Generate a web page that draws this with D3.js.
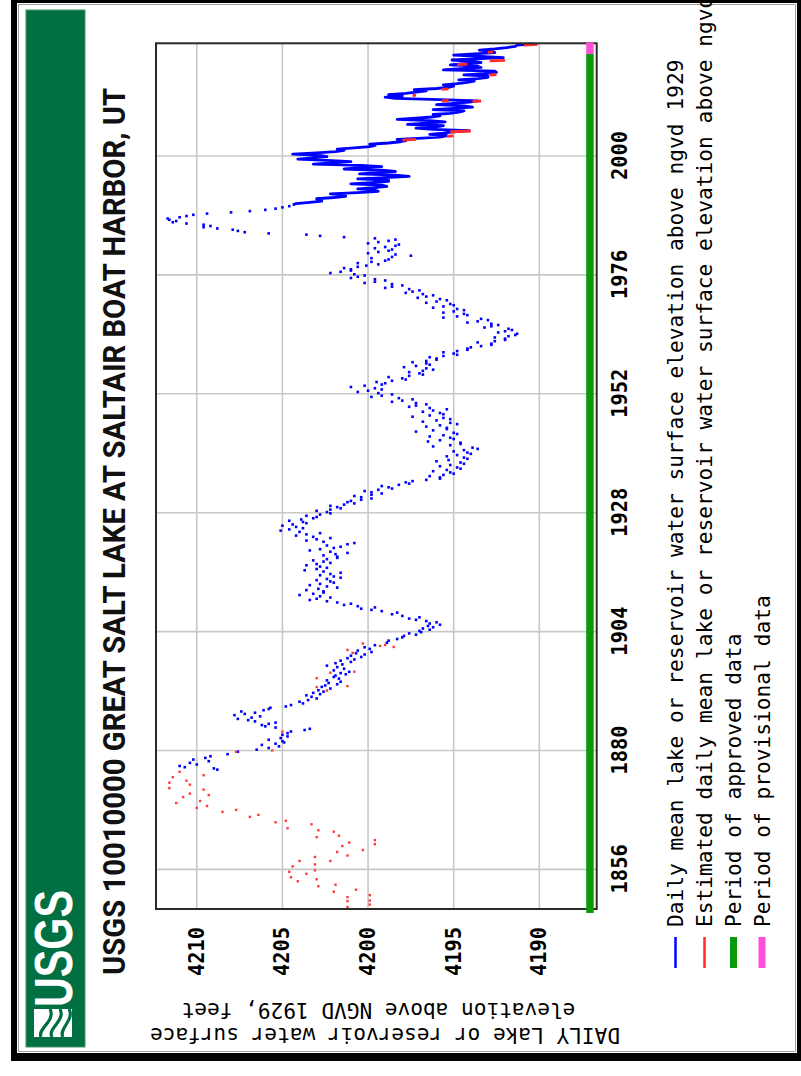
<!DOCTYPE html>
<html><head><meta charset="utf-8">
<script src="https://cdn.jsdelivr.net/npm/d3@7"></script>
<style>body{margin:0;background:#fff}svg{display:block}</style>
</head><body>
<svg id="c" width="801" height="1076"></svg>
<script>
const titleText = "USGS 10010000 GREAT SALT LAKE AT SALTAIR BOAT HARBOR, UT";
const yTitleLines = ["DAILY Lake or reservoir water surface", "elevation above NGVD 1929, feet"];
const legendLabels = [
  "Daily mean lake or reservoir water surface elevation above ngvd 1929",
  "Estimated daily mean lake or reservoir water surface elevation above ngvd 1929",
  "Period of approved data",
  "Period of provisional data"
];
const legendColors = ["#0000ff", "#ff2a2a", "#089a08", "#ff4fd8"];
const legendWidths = [2.5, 2.5, 7, 7];

const yearTicks = [1856, 1880, 1904, 1928, 1952, 1976, 2000];
const elevTicks = [4190, 4195, 4200, 4205, 4210];
const yearDomain = [1848.0, 2022.75];
const elevDomain = [4186.65, 4212.38];
const approvedPeriod = [1847.2, 2020.6];
const provisionalPeriod = [2020.6, 2022.9];

// estimated (red) isolated readings [decimal year, elevation]
const estimatedPoints = [
[1848.4,4201.2],[1849.6,4201.2],[1850.4,4201.2],[1848.9,4199.9],[1849.7,4199.9],[1850.8,4199.9],
[1851.9,4200.7],[1851.5,4202.0],[1852.9,4201.9],[1852.6,4202.9],[1854.0,4203.0],[1853.6,4204.1],
[1854.4,4204.5],[1855.1,4203.6],[1855.5,4204.6],[1856.6,4204.4],[1857.7,4204.0],[1855.8,4203.1],
[1857.0,4203.1],[1858.5,4203.1],[1857.7,4202.2],[1858.8,4201.2],[1859.5,4201.8],[1859.9,4200.3],
[1860.7,4201.5],[1861.4,4201.1],[1861.1,4199.6],[1861.9,4199.6],[1862.8,4201.7],[1863.6,4202.0],
[1862.5,4203.0],[1863.9,4202.9],[1864.3,4204.7],[1865.1,4203.3],[1865.8,4204.8],[1865.5,4205.4],
[1866.6,4206.9],[1867.0,4206.4],[1867.6,4208.5],[1868.0,4207.7],[1868.4,4210.0],[1868.8,4209.4],
[1869.4,4211.2],[1869.8,4209.8],[1870.6,4210.8],[1871.0,4209.3],[1871.3,4210.4],[1872.1,4209.6],
[1872.4,4211.6],[1873.1,4210.4],[1873.5,4211.6],[1873.9,4210.6],[1874.6,4211.4],[1875.0,4209.6],
[1875.7,4211.0],
[1879.7,4207.7],[1880.0,4205.6],[1883.8,4205.0],[1892.1,4202.4],[1892.8,4203.0],[1893.0,4201.2],
[1894.6,4203.0],[1895.7,4202.2],[1895.9,4200.8],[1899.7,4200.9],[1900.3,4201.2],[1900.9,4198.5],
[1901.1,4199.3],[1901.3,4199.0],[1901.6,4200.3]
];

// daily mean readings shown as isolated points: [year, readings through the year...]
const dailyDotRows = [
[1876,4208.8,4209.0,4210.7,4211.0],[1877,4210.0,4210.4,4209.3],[1878,4210.2,4209.5,4209.2],
[1879,4208.2,4207.6],[1880,4206.5,4205.8,4205.2],[1881,4206.2,4205.4,4204.9,4205.0],
[1882,4205.8,4205.1,4204.7],[1883,4205.0,4204.7,4204.5],[1884,4203.7,4203.4,4205.4,4206.0],
[1885,4206.2,4205.8,4205.4,4206.6],[1886,4207.0,4207.6,4206.8,4206.3],[1887,4207.8,4207.2,4206.6,4207.4],
[1888,4206.1,4205.8,4205.7,4204.8],[1889,4204.5,4203.8,4204.0],[1890,4203.5,4203.0,4203.3],
[1891,4203.6,4202.8,4203.2,4202.6],[1892,4202.9,4202.2,4202.7],[1893,4202.5,4201.8,4202.3,4201.6],
[1894,4202.4,4201.7,4202.0],[1895,4201.9,4201.3,4201.6,4201.1],[1896,4202.0,4201.4,4201.8],
[1897,4202.4,4201.5,4201.9,4201.0],[1898,4201.6,4200.8,4201.2,4200.4],[1899,4201.0,4200.2,4200.7,4199.8],
[1900,4200.6,4199.9,4200.2],[1901,4199.6,4198.9],[1902,4198.8,4198.3,4198.0],
[1903,4197.9,4197.2,4197.6,4196.9],[1904,4197.0,4196.4,4196.8,4196.2],[1905,4196.5,4195.8,4196.4,4196.0],
[1906,4196.6,4197.2,4197.6,4197.0],[1907,4198.0,4198.6,4198.3],[1908,4199.2,4199.8,4200.4,4199.6],
[1909,4200.6,4201.4,4201.0,4201.8],[1910,4202.4,4203.4,4203.0,4202.2],[1911,4202.8,4204.0,4203.2,4202.6],
[1912,4202.6,4203.6,4202.9,4201.8],[1913,4202.4,4203.4,4202.8,4202.0],[1914,4202.2,4203.0,4202.4,4201.6],
[1915,4202.0,4202.8,4202.2,4201.6],[1916,4202.6,4203.7,4203.0,4202.4],[1917,4202.8,4203.6,4203.0,4202.2],
[1918,4202.6,4203.2,4202.4,4201.8],[1919,4201.8,4202.6,4201.9,4201.2],[1920,4202.2,4203.4,4202.8,4202.0],
[1921,4201.6,4202.4,4201.2,4200.8],[1922,4202.6,4203.6,4203.0,4202.2],[1923,4203.2,4204.2,4203.6,4202.8],
[1924,4204.0,4205.1,4204.6,4203.8],[1925,4204.2,4205.0,4204.4,4203.6],[1926,4203.8,4204.6,4203.9,4203.2],
[1927,4203.0,4203.6,4202.8,4202.2],[1928,4202.4,4203.0,4202.2,4201.6],[1929,4201.8,4202.2,4201.4,4200.8],
[1930,4201.2,4201.0,4200.4,4199.8],[1931,4200.4,4200.8,4199.8,4199.2],[1932,4199.8,4200.2,4199.4,4198.6],
[1933,4198.8,4199.2,4198.2,4197.6],[1934,4197.8,4197.4,4196.6,4195.8],[1935,4195.8,4196.4,4195.6,4195.0],
[1936,4195.2,4196.2,4195.4,4194.6],[1937,4194.8,4195.8,4195.2,4194.4],[1938,4194.6,4196.0,4195.3,4194.2],
[1939,4194.4,4195.4,4194.8,4194.0],[1940,4194.2,4195.0,4194.4,4193.6],[1941,4193.9,4196.2,4195.2,4194.6],
[1942,4194.6,4196.5,4195.8,4195.0],[1943,4195.2,4196.4,4195.6,4194.8],[1944,4195.0,4197.2,4196.2,4195.4],
[1945,4195.4,4196.6,4195.8,4194.8],[1946,4195.2,4196.8,4196.0,4195.2],[1947,4195.6,4197.4,4196.4,4195.6],
[1948,4195.8,4196.8,4196.2,4195.4],[1949,4196.4,4197.6,4197.2,4196.6],[1950,4197.2,4198.6,4198.0,4197.4],
[1951,4198.2,4199.8,4199.2,4198.6],[1952,4199.4,4200.6,4200.0,4199.2],[1953,4199.6,4201.0,4200.2,4199.2],
[1954,4199.0,4199.5,4198.6,4197.8],[1955,4198.0,4198.8,4197.6,4196.8],[1956,4197.0,4197.6,4196.8,4196.2],
[1957,4196.6,4197.9,4197.2,4196.4],[1958,4196.6,4197.4,4196.6,4196.0],[1959,4196.0,4196.4,4195.6,4194.8],
[1960,4195.0,4195.6,4194.8,4194.2],[1961,4194.2,4194.0,4193.4,4192.8],[1962,4192.8,4193.6,4192.6,4192.0],
[1963,4192.0,4192.6,4191.8,4191.4],[1964,4191.3,4192.4,4192.0,4191.6],[1965,4191.8,4193.2,4192.8,4192.4],
[1966,4192.8,4194.2,4193.6,4193.0],[1967,4193.4,4195.6,4194.8,4194.2],[1968,4194.4,4195.6,4195.0,4194.4],
[1969,4194.8,4196.2,4195.6,4195.0],[1970,4195.2,4196.6,4196.0,4195.4],[1971,4195.8,4197.1,4196.6,4196.2],
[1972,4196.8,4197.8,4197.4,4197.0],[1973,4197.6,4199.0,4198.6,4198.0],[1974,4198.6,4200.2,4199.6,4199.0],
[1975,4199.6,4201.0,4200.6,4200.2],[1976,4200.8,4202.2,4201.6,4201.0],[1977,4201.0,4201.4,4200.6,4200.1],
[1978,4199.4,4200.6,4199.8,4199.0],[1979,4198.8,4199.8,4198.6,4197.5],[1980,4198.4,4200.0,4199.4,4198.8],
[1981,4198.6,4199.6,4199.0,4198.4],[1982,4198.2,4200.0,4199.4,4198.8],[1983,4198.4,4199.6,4201.4,4202.8],
[1984,4203.6,4205.8,4207.2,4207.6],[1985,4207.9,4208.8,4209.6,4209.2],[1986,4209.6,4210.6,4211.4,4211.2],
[1987,4211.6,4211.7,4211.0,4210.6],[1988,4210.2,4209.4,4208.0,4206.9],[1989,4206.0,4205.4,4205.0,4204.6]
];

// continuous daily record, quarterly readings: [year, q1, q2, q3, q4]
const dailyLineRows = [
[1990,4204.4,4204.2,4203.4,4202.7],[1991,4202.8,4203.0,4202.0,4201.3],[1992,4201.4,4202.2,4200.6,4199.4],
[1993,4199.6,4200.6,4199.6,4198.9],[1994,4199.2,4201.0,4199.8,4198.8],[1995,4198.8,4200.6,4199.0,4197.6],
[1996,4198.4,4200.5,4199.4,4198.4],[1997,4199.2,4201.4,4200.4,4199.2],[1998,4200.4,4203.2,4202.0,4201.0],
[1999,4202.4,4204.1,4203.2,4202.4],[2000,4202.8,4204.4,4203.0,4201.9],[2001,4201.4,4201.8,4200.8,4199.9],
[2002,4199.6,4199.9,4198.8,4198.1],[2003,4197.8,4198.3,4196.8,4195.7],[2004,4195.4,4196.4,4195.6,4195.0],
[2005,4194.1,4196.2,4197.2,4196.0],[2006,4195.6,4197.7,4196.6,4195.5],[2007,4196.4,4198.3,4197.2,4196.3],
[2008,4195.8,4196.2,4195.2,4194.7],[2009,4194.4,4196.2,4195.0,4193.9],[2010,4194.4,4196.0,4195.0,4194.1],
[2011,4193.6,4195.8,4198.4,4199.0],[2012,4198.0,4198.8,4197.8,4197.2],[2013,4196.6,4197.3,4196.0,4195.3],
[2014,4195.0,4195.6,4194.8,4194.2],[2015,4193.8,4194.7,4193.6,4193.0],[2016,4193.0,4194.4,4193.2,4192.5],
[2017,4192.6,4195.6,4194.6,4193.4],[2018,4193.6,4195.2,4194.4,4193.4],[2019,4194.0,4195.1,4193.8,4192.1],
[2020,4193.4,4195.0,4193.8,4192.6],[2021,4192.8,4193.5,4192.6,4191.9],[2022,4191.4,4191.3,4190.4]
];

// estimated stretches within the continuous record: [[year, elev], [year, elev]]
const estimatedSegments = [
[[2003.2,4198.0],[2003.35,4197.2]],[[2003.95,4195.4],[2004.05,4195.0]],[[2004.9,4195.2],[2005.05,4194.0]],
[[2011.1,4195.7],[2011.2,4195.3]],[[2011.0,4193.9],[2011.1,4193.4]],[[2012.2,4197.4],[2012.3,4197.2]],
[[2013.45,4195.7],[2013.55,4195.3]],[[2016.35,4192.9],[2016.45,4192.5]],[[2018.45,4194.8],[2018.55,4194.2]],
[[2019.2,4192.9],[2019.3,4192.0]],[[2020.9,4193.0],[2021.0,4192.7]],[[2022.4,4190.9],[2022.55,4190.1]]
];

const mono = "'DejaVu Sans Mono', 'Liberation Mono', monospace";
const svg = d3.select("#c");

// outer frame (screen coordinates)
svg.append("rect").attr("x", 11).attr("y", -5).attr("width", 795).attr("height", 1066).attr("fill", "#000");
svg.append("rect").attr("x", 17).attr("y", 3).attr("width", 780).attr("height", 1050).attr("fill", "#fff");
svg.append("rect").attr("x", 18.5).attr("y", 4.5).attr("width", 777).attr("height", 1047)
  .attr("fill", "none").attr("stroke", "#a0a0a0").attr("stroke-width", 1);

// chart drawn in its own orientation, then turned a quarter turn counter-clockwise
const g = svg.append("g").attr("transform", "translate(0,1076) rotate(-90)");

// USGS band
g.append("rect").attr("x", 29).attr("y", 26).attr("width", 1037).attr("height", 59)
  .attr("fill", "#006f41").attr("stroke", "#3c9a6e").attr("stroke-width", 1);
const logo = g.append("g");
logo.append("rect").attr("x", 39).attr("y", 34).attr("width", 28).attr("height", 38).attr("fill", "#fff");
[["M39,41 C47,37 55,56 67,50", 3.2], ["M39,52 C48,47 55,66 67,60", 3.2], ["M39,63 C47,58 56,75 67,69", 3.2]]
  .forEach(([d, w]) => logo.append("path").attr("d", d).attr("fill", "none").attr("stroke", "#006f41").attr("stroke-width", w));
logo.append("text").attr("x", 69).attr("y", 72).attr("textLength", 117).attr("lengthAdjust", "spacingAndGlyphs")
  .attr("font-family", "'Liberation Sans Narrow', 'Liberation Sans', Arial, sans-serif").attr("font-weight", "bold")
  .attr("font-size", 53).attr("fill", "#fff").text("USGS");

// title
g.append("text").attr("x", 101).attr("y", 125).attr("textLength", 887).attr("lengthAdjust", "spacingAndGlyphs")
  .attr("font-family", "'Liberation Sans Narrow', Roboto, 'Liberation Sans', sans-serif").attr("font-weight", "bold")
  .attr("font-size", 32).attr("fill", "#111").text(titleText);

// scales
const x = d3.scaleLinear().domain(yearDomain).range([167, 1032.7]);
const y = d3.scaleLinear().domain(elevDomain).range([596.7, 156]);
const [X0, X1] = x.range(), [Y0, Y1] = y.range();

// grid
g.append("rect").attr("x", X0).attr("y", Y1).attr("width", X1 - X0).attr("height", Y0 - Y1).attr("fill", "#fff");
g.append("g").selectAll("line").data(yearTicks).join("line")
  .attr("x1", d => x(d)).attr("x2", d => x(d)).attr("y1", Y1).attr("y2", Y0)
  .attr("stroke", "#c8c8c8").attr("stroke-width", 1.6);
g.append("g").selectAll("line").data(elevTicks).join("line")
  .attr("y1", d => y(d)).attr("y2", d => y(d)).attr("x1", X0).attr("x2", X1)
  .attr("stroke", "#c8c8c8").attr("stroke-width", 1.6);

// daily points
const dots = dailyDotRows.flatMap(r => r.slice(1).map((v, i, a) => ({ t: r[0] + (i + 0.5) / a.length, v })));
g.append("g").selectAll("rect").data(dots).join("rect")
  .attr("x", d => x(d.t) - 1.3).attr("y", d => y(d.v) - 1.3).attr("width", 2.6).attr("height", 2.6)
  .attr("fill", "#0000ff");

// continuous daily line
const linePts = dailyLineRows.flatMap(r => r.slice(1).map((v, i) => ({ t: r[0] + (i + 0.5) / 4, v })));
const line = d3.line().x(d => x(d.t)).y(d => y(d.v));
g.append("path").datum(linePts).attr("d", line).attr("fill", "none")
  .attr("stroke", "#0000ff").attr("stroke-width", 2.8).attr("stroke-linejoin", "round");

// estimated
const line2 = d3.line().x(d => x(d[0])).y(d => y(d[1]));
g.append("g").selectAll("path").data(estimatedSegments).join("path").attr("d", line2)
  .attr("fill", "none").attr("stroke", "#ff2a2a").attr("stroke-width", 2.8);
g.append("g").selectAll("rect").data(estimatedPoints).join("rect")
  .attr("x", d => x(d[0]) - 1.2).attr("y", d => y(d[1]) - 1.2).attr("width", 2.4).attr("height", 2.4)
  .attr("fill", "#ff3a3a");

// plot frame
g.append("rect").attr("x", X0).attr("y", Y1).attr("width", X1 - X0).attr("height", Y0 - Y1)
  .attr("fill", "none").attr("stroke", "#2a2a2a").attr("stroke-width", 2);

// period bars
g.append("rect").attr("x", x(approvedPeriod[0])).attr("width", x(approvedPeriod[1]) - x(approvedPeriod[0]))
  .attr("y", Y0 - 10.5).attr("height", 7.5).attr("fill", "#089a08");
g.append("rect").attr("x", x(provisionalPeriod[0])).attr("width", x(provisionalPeriod[1]) - x(provisionalPeriod[0]))
  .attr("y", Y0 - 10.5).attr("height", 7.5).attr("fill", "#ff4fd8");

// axes
const xAxis = g.append("g").attr("transform", `translate(0,${Y0})`)
  .call(d3.axisBottom(x).tickValues(yearTicks).tickSize(0).tickPadding(16).tickFormat(d3.format("d")));
xAxis.select(".domain").remove();
xAxis.attr("font-family", mono).attr("font-size", 20.4).attr("font-weight", "bold");
xAxis.selectAll("text").attr("fill", "#000");
const yAxis = g.append("g").attr("transform", `translate(${X0},0)`)
  .call(d3.axisLeft(y).tickValues(elevTicks).tickSize(0).tickPadding(18).tickFormat(d3.format("d")));
yAxis.select(".domain").remove();
yAxis.attr("font-family", mono).attr("font-size", 20.4).attr("font-weight", "bold");
yAxis.selectAll("text").attr("fill", "#000");

// y-axis title (two lines)
[[48, 385], [73, 378.5]].forEach(([bx, cy], i) => {
  g.append("text").attr("transform", `translate(${bx},${cy}) rotate(-90)`).attr("text-anchor", "middle")
    .attr("font-family", mono).attr("font-size", 21.1).attr("fill", "#000").text(yTitleLines[i]);
});

// legend
const legendY = [675.5, 704.5, 733.5, 762];
legendLabels.forEach((lab, i) => {
  g.append("line").attr("x1", 108).attr("x2", 139).attr("y1", legendY[i]).attr("y2", legendY[i])
    .attr("stroke", legendColors[i]).attr("stroke-width", legendWidths[i]);
  g.append("text").attr("x", 149).attr("y", legendY[i] + 7.5).attr("font-family", mono)
    .attr("font-size", 21.2).attr("fill", "#000").text(lab);
});
</script>
</body></html>
